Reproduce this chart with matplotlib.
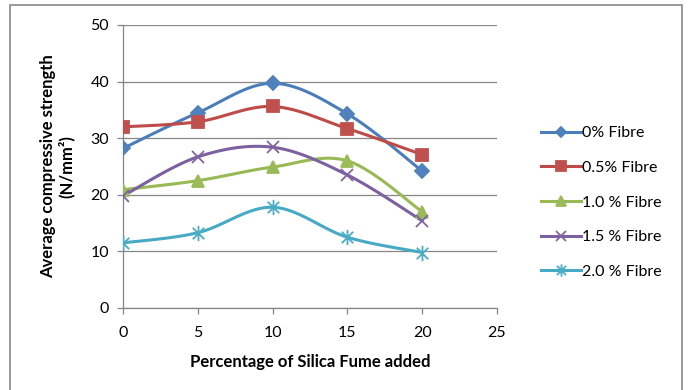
import numpy as np
import matplotlib
matplotlib.use('Agg')
from matplotlib import pyplot as plt
from matplotlib.path import Path
from matplotlib.patches import Rectangle

plt.rcParams['font.family'] = ['Lato', 'DejaVu Sans']

silica = [0, 5, 10, 15, 20]
fibre_0 = [28.2, 34.5, 39.7, 34.3, 24.2]
fibre_05 = [32.0, 32.9, 35.6, 31.7, 27.1]
fibre_10 = [20.9, 22.5, 24.9, 26.0, 17.0]
fibre_15 = [19.8, 26.7, 28.4, 23.5, 15.4]
fibre_20 = [11.5, 13.3, 17.8, 12.5, 9.8]
labels = ['0% Fibre', '0.5% Fibre', '1.0 % Fibre', '1.5 % Fibre', '2.0 % Fibre']

# excel style asterisk: x plus a vertical bar
star = Path([(0, -1), (0, 1), (-0.75, -0.75), (0.75, 0.75), (-0.75, 0.75), (0.75, -0.75)],
            [Path.MOVETO, Path.LINETO, Path.MOVETO, Path.LINETO, Path.MOVETO, Path.LINETO])

styles = [
    ('#4A7EBB', '#4F81BD', 'D', 7),
    ('#BE4B48', '#C0504D', 's', 9),
    ('#98B954', '#9BBB59', '^', 9),
    ('#7D60A0', '#8064A2', 'x', 9),
    ('#46AAC5', '#4BACC6', star, 11),
]


def smooth(x, y, n=30):
    # catmull-rom like bezier, close to excel's smoothed line
    x = np.asarray(x, float)
    y = np.asarray(y, float)
    px = np.concatenate([[x[0]], x, [x[-1]]])
    py = np.concatenate([[y[0]], y, [y[-1]]])
    xs, ys = [], []
    t = np.linspace(0, 1, n)
    for i in range(1, len(px) - 2):
        x0, y0 = px[i], py[i]
        x3, y3 = px[i + 1], py[i + 1]
        x1 = x0 + (px[i + 1] - px[i - 1]) / 6
        y1 = y0 + (py[i + 1] - py[i - 1]) / 6
        x2 = x3 - (px[i + 2] - px[i]) / 6
        y2 = y3 - (py[i + 2] - py[i]) / 6
        b = [(1 - t) ** 3, 3 * (1 - t) ** 2 * t, 3 * (1 - t) * t ** 2, t ** 3]
        xs.extend(b[0] * x0 + b[1] * x1 + b[2] * x2 + b[3] * x3)
        ys.extend(b[0] * y0 + b[1] * y1 + b[2] * y2 + b[3] * y3)
    return xs, ys


fig = plt.figure(figsize=(6.88, 3.9), dpi=100)
ax = fig.add_axes([0.1788, 0.2103, 0.5436, 0.7256])

series = [fibre_0, fibre_05, fibre_10, fibre_15, fibre_20]
handles = []
for vals, lab, (lc, mc, mk, ms) in zip(series, labels, styles):
    sx, sy = smooth(silica, vals)
    ax.plot(sx, sy, color=lc, lw=2.2, zorder=3, solid_capstyle='round')
    ax.plot(silica, vals, ls='none', marker=mk, ms=ms, color=mc,
            mec=mc, mew=1.3, zorder=4)
    h, = ax.plot([], [], color=lc, lw=2.2, marker=mk, ms=ms, mfc=mc, mec=mc, mew=1.3)
    handles.append(h)

ax.set_xlim(0, 25)
ax.set_ylim(0, 50)
ax.set_xticks([0, 5, 10, 15, 20, 25])
ax.set_yticks([0, 10, 20, 30, 40, 50])
ax.yaxis.grid(True, color='#868686', lw=0.9)
ax.set_axisbelow(True)
for s in ['top', 'right']:
    ax.spines[s].set_visible(False)
for s in ['left', 'bottom']:
    ax.spines[s].set_color('#868686')
    ax.spines[s].set_linewidth(0.9)
ax.tick_params(axis='both', colors='#868686', length=4, width=0.9, labelsize=11.5,
               labelcolor='black')
ax.tick_params(axis='x', pad=9)
ax.tick_params(axis='y', pad=6)
ax.set_xlabel('Percentage of Silica Fume added', fontsize=12, fontweight='bold', labelpad=10)
ax.set_ylabel('Average compressive strength\n(N/mm²)', fontsize=12, fontweight='bold',
              labelpad=11, linespacing=1.2)

leg = ax.legend(handles, labels, loc='upper left', bbox_to_anchor=(1.1, 0.665),
                frameon=False, fontsize=11.5, handlelength=2.5, handletextpad=0.05,
                labelspacing=1.28, borderaxespad=0, markerscale=0.8)

fig.patches.append(Rectangle((10 / 688, -0.05), 672 / 688, 1.05 - 5 / 390,
                             transform=fig.transFigure, fill=False,
                             edgecolor='#888888', lw=1.2))

fig.savefig('out.png', dpi=100)
